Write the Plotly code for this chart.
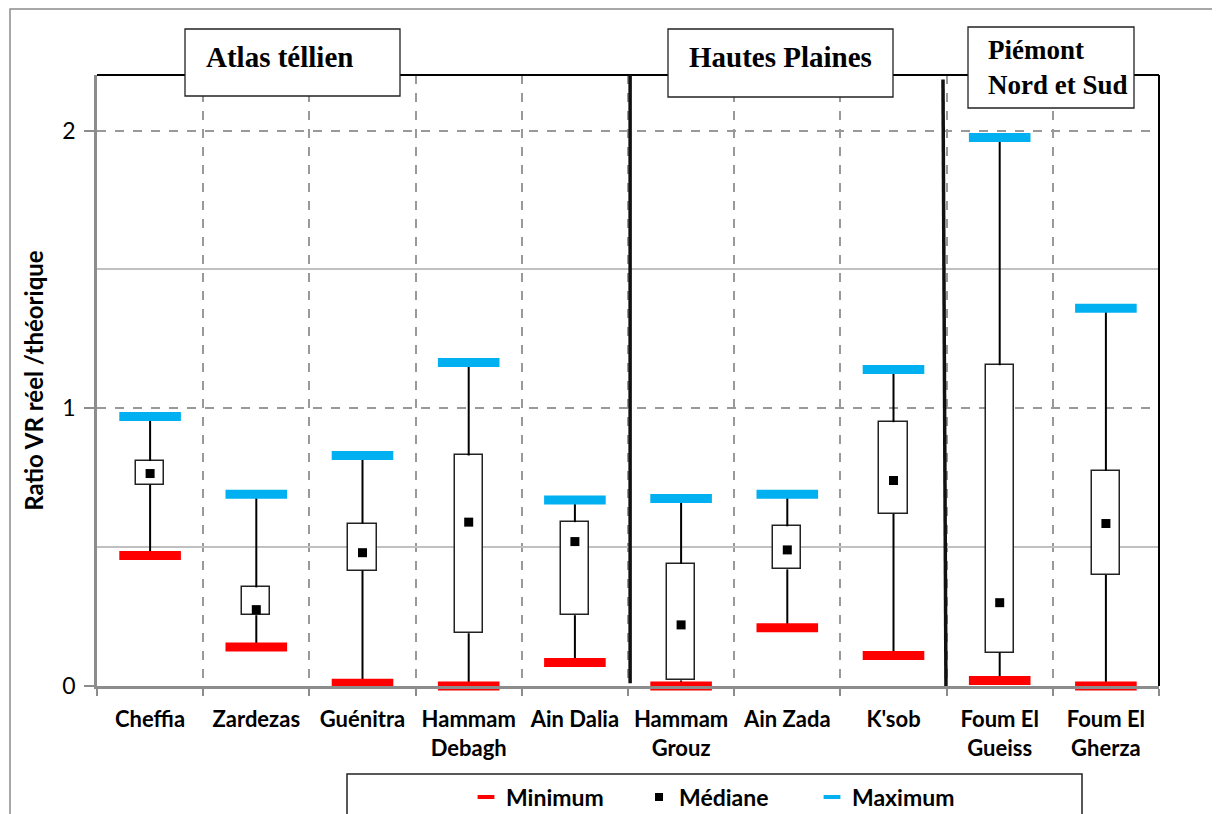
import plotly.graph_objects as go

# stations and ratio statistics (VR reel / theorique)
stations = ['Cheffia', 'Zardezas', 'Guénitra', 'Hammam<br>Debagh', 'Ain Dalia',
            'Hammam<br>Grouz', 'Ain Zada', "K'sob", 'Foum El<br>Gueiss', 'Foum El<br>Gherza']
v_min = [0.47, 0.14, 0.01, 0.0, 0.085, 0.0, 0.21, 0.11, 0.02, 0.0]
v_q1 = [0.725, 0.255, 0.415, 0.19, 0.255, 0.02, 0.42, 0.62, 0.12, 0.40]
v_med = [0.765, 0.275, 0.48, 0.59, 0.52, 0.22, 0.49, 0.74, 0.30, 0.585]
v_q3 = [0.81, 0.355, 0.585, 0.83, 0.59, 0.44, 0.575, 0.95, 1.155, 0.775]
v_max = [0.97, 0.69, 0.83, 1.165, 0.67, 0.675, 0.69, 1.14, 1.975, 1.36]

y_ticks = [0, 1, 2]
regions = ['Atlas téllien', 'Hautes Plaines', 'Piémont<br>Nord et Sud']

# page has an 8px body margin, so the figure is made 8px smaller
W, H = 1212, 806
L, R, T, B = 89, 61, 67, 128
RED = '#FF0000'
CYAN = '#00B0F0'
FONT = 'Lato'
SERIF = 'Liberation Serif'


# helpers: reference screenshot pixels -> paper coords
def px_x(p):
    return (p - 97) / 1062


def px_y(p):
    return (686 - p) / 611


xs = list(range(len(stations)))

fig = go.Figure()

# whiskers
wx, wy = [], []
for i in xs:
    wx += [i, i, None, i, i, None]
    wy += [v_q3[i], v_max[i], None, v_q1[i], v_min[i], None]
fig.add_trace(go.Scatter(x=wx, y=wy, mode='lines', line=dict(color='black', width=2),
                         showlegend=False, hoverinfo='skip'))

# boxes
fig.add_trace(go.Bar(x=xs, y=[v_q3[i] - v_q1[i] for i in xs], base=v_q1, width=0.265,
                     marker=dict(color='white', line=dict(color='#222', width=1.5)),
                     showlegend=False))

# min / max / median
fig.add_trace(go.Scatter(x=xs, y=v_min, mode='markers', showlegend=False, cliponaxis=False,
                         marker=dict(symbol='line-ew', size=44, line=dict(color=RED, width=9))))
fig.add_trace(go.Scatter(x=xs, y=v_max, mode='markers', showlegend=False, cliponaxis=False,
                         marker=dict(symbol='line-ew', size=44, line=dict(color=CYAN, width=9))))
fig.add_trace(go.Scatter(x=xs, y=v_med, mode='markers', showlegend=False,
                         marker=dict(symbol='square', size=9, color='black')))

# legend entries
fig.add_trace(go.Scatter(x=[None], y=[None], mode='markers', name='Minimum',
                         marker=dict(symbol='line-ew', size=12, line=dict(color=RED, width=4))))
fig.add_trace(go.Scatter(x=[None], y=[None], mode='markers', name='Médiane',
                         marker=dict(symbol='square', size=8, color='black')))
fig.add_trace(go.Scatter(x=[None], y=[None], mode='markers', name='Maximum',
                         marker=dict(symbol='line-ew', size=12, line=dict(color=CYAN, width=4))))

shapes = [
    # outer frame
    dict(type='rect', xref='paper', yref='paper', x0=px_x(10), x1=px_x(1240), y0=px_y(9), y1=px_y(840),
         line=dict(color='#8c8c8c', width=1.5), layer='below'),
    # top / right border of plot
    dict(type='line', xref='x domain', yref='y domain', x0=0, x1=1, y0=1, y1=1,
         line=dict(color='black', width=2)),
    dict(type='line', xref='x domain', yref='y domain', x0=1, x1=1, y0=0, y1=1,
         line=dict(color='black', width=2)),
    # region separators
    dict(type='line', xref='x', yref='y', x0=4.52, x1=4.52, y0=0.01, y1=2.2,
         line=dict(color='#111', width=3.5)),
    dict(type='line', xref='x', yref='y', x0=7.494, x1=7.466, y0=0, y1=2.184,
         line=dict(color='#111', width=3.5)),
    # region title boxes
    dict(type='rect', xref='paper', yref='paper', x0=px_x(185), x1=px_x(400), y0=px_y(96), y1=px_y(29),
         fillcolor='white', line=dict(color='#222', width=1.3)),
    dict(type='rect', xref='paper', yref='paper', x0=px_x(668), x1=px_x(893), y0=px_y(97), y1=px_y(29),
         fillcolor='white', line=dict(color='#222', width=1.3)),
    dict(type='rect', xref='paper', yref='paper', x0=px_x(968), x1=px_x(1134), y0=px_y(108), y1=px_y(27),
         fillcolor='white', line=dict(color='#222', width=1.3)),
    # legend box
    dict(type='rect', xref='paper', yref='paper', x0=px_x(347), x1=px_x(1082), y0=px_y(840), y1=px_y(774),
         fillcolor='white', line=dict(color='#222', width=1.5)),
]

title_font = dict(family=SERIF, size=29, color='black', weight='bold')
annotations = [
    dict(text=regions[0], xref='paper', yref='paper', x=px_x(279), y=px_y(57), showarrow=False,
         font=title_font, xanchor='center', yanchor='middle'),
    dict(text=regions[1], xref='paper', yref='paper', x=px_x(780), y=px_y(57), showarrow=False,
         font=title_font, xanchor='center', yanchor='middle'),
    dict(text=regions[2], xref='paper', yref='paper', x=px_x(986), y=px_y(68), showarrow=False,
         font=dict(title_font, size=27), xanchor='left', yanchor='middle', align='left'),
]

fig.update_layout(
    width=W, height=H,
    margin=dict(l=L, r=R, t=T, b=B, autoexpand=False),
    paper_bgcolor='white', plot_bgcolor='white',
    font=dict(family=FONT, color='black'),
    shapes=shapes, annotations=annotations,
    showlegend=True,
    legend=dict(orientation='h', x=px_x(466), y=px_y(797), xanchor='left', yanchor='middle',
                entrywidth=128, entrywidthmode='pixels', bgcolor='rgba(0,0,0,0)',
                font=dict(family=FONT, size=23, color='black', weight='bold')),
    bargap=0,
)

fig.update_xaxes(
    range=[-0.5, 9.5], tickmode='array', tickvals=xs, ticktext=stations,
    ticks='', showgrid=False, zeroline=False, automargin=False,
    showline=True, linecolor='#8c8c8c', linewidth=2.5, ticklabelstandoff=12,
    tickfont=dict(family=FONT, size=22, color='black', weight='bold'),
    minor=dict(tickvals=[i - 0.5 for i in range(11)], ticks='outside', ticklen=7, tickcolor='#8c8c8c',
               tickwidth=2, showgrid=True, gridcolor='#999', gridwidth=1.5, griddash='dash'),
)

fig.update_yaxes(
    range=[0, 2.2], tickmode='array', tickvals=y_ticks, ticktext=[str(v) for v in y_ticks],
    ticks='outside', ticklen=10, tickcolor='#8c8c8c', tickwidth=1.5, automargin=False,
    showgrid=True, gridcolor='#999', gridwidth=1.5, griddash='dash', zeroline=False,
    showline=True, linecolor='#8c8c8c', linewidth=2.5, ticklabelstandoff=4,
    tickfont=dict(family=FONT, size=23, color='black'),
    title=dict(text='Ratio VR réel /théorique', font=dict(family=FONT, size=24, color='black', weight='bold'),
               standoff=12),
    minor=dict(tickvals=[0.5, 1.5], showgrid=True, gridcolor='#c0c0c0', gridwidth=1.5, griddash='solid',
               ticks=''),
)

fig.write_html("out.html")
